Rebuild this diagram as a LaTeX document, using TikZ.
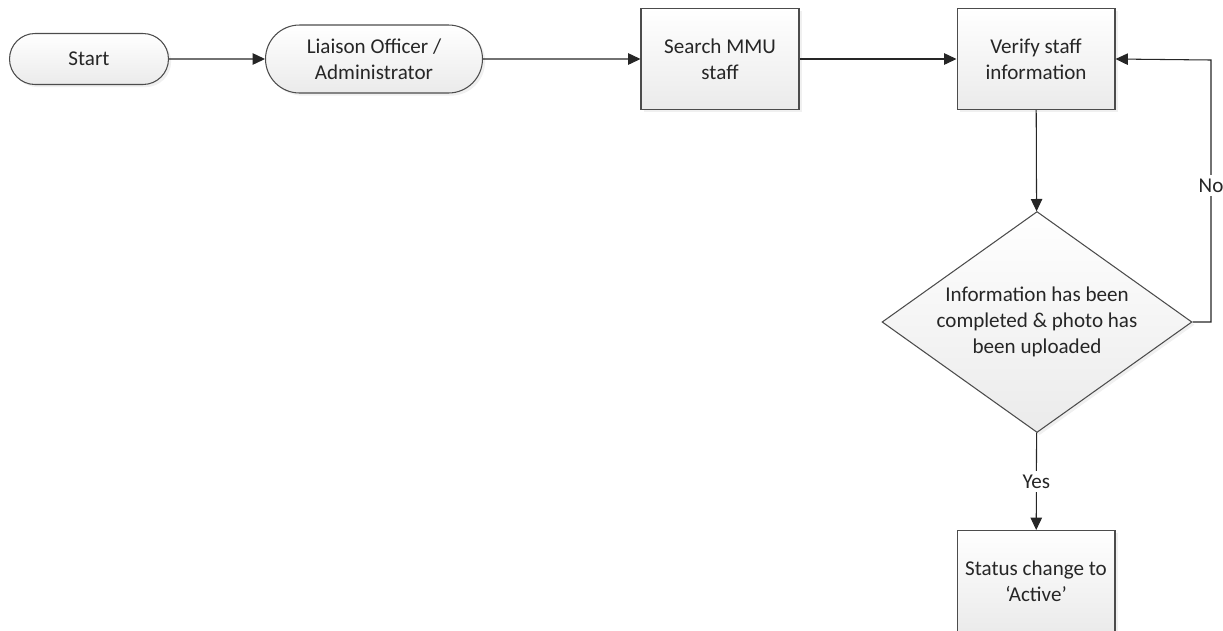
\documentclass[tikz,border=0pt]{standalone}
\usepackage{fontspec}
\setmainfont{Carlito}
\usetikzlibrary{shapes.misc,shapes.geometric,arrows.meta,shadows}
\tikzset{
  base/.style={draw=gray!60!black,line width=0.6pt,top color=white,bottom color=gray!16,
    drop shadow={opacity=0.12,shadow xshift=1.5pt,shadow yshift=-1.5pt},
    font=\fontsize{12}{14.7}\selectfont,align=center,text=black!85,inner sep=0pt},
  term/.style={base,rounded rectangle},
  proc/.style={base,rectangle,minimum width=3.16cm,minimum height=2.02cm},
  dec/.style={base,diamond,aspect=1.4,minimum width=6.2cm,minimum height=4.42cm},
  arr/.style={-{Triangle[length=7pt,width=6.5pt]},draw=gray!30!black,line width=0.6pt},
  lbl/.style={fill=white,font=\fontsize{12}{14.7}\selectfont,text=black!85,inner sep=2pt}
}

\begin{document}
\begin{tikzpicture}[x=0.02cm,y=-0.02cm]
\clip (0,0) rectangle (1223,630);
\node[term,minimum width=3.18cm,minimum height=1.02cm] (start) at (89,59) {Start};
\node[term,minimum width=4.34cm,minimum height=1.36cm] (liaison) at (374,59) {Liaison Officer /\\Administrator};
\node[proc] (search) at (720,59) {Search MMU\\staff};
\node[proc] (verify) at (1036,59) {Verify staff\\information};
\node[dec] (check) at (1037,322) {Information has been\\completed \& photo has\\been uploaded};
\node[proc] (status) at (1036,581) {Status change to\\`Active'};
\coordinate (back) at (1211,60);
\draw[arr] (start) -- (liaison);
\draw[arr] (liaison) -- (search);
\draw[arr] (search) -- (verify);
\draw[arr] (verify) -- (check);
\draw[arr] (check) -- node[lbl]{Yes} (status);
\draw[arr] (check.east) -| node[lbl,pos=0.76]{No} (back) -- (verify.east);
\end{tikzpicture}
\end{document}
